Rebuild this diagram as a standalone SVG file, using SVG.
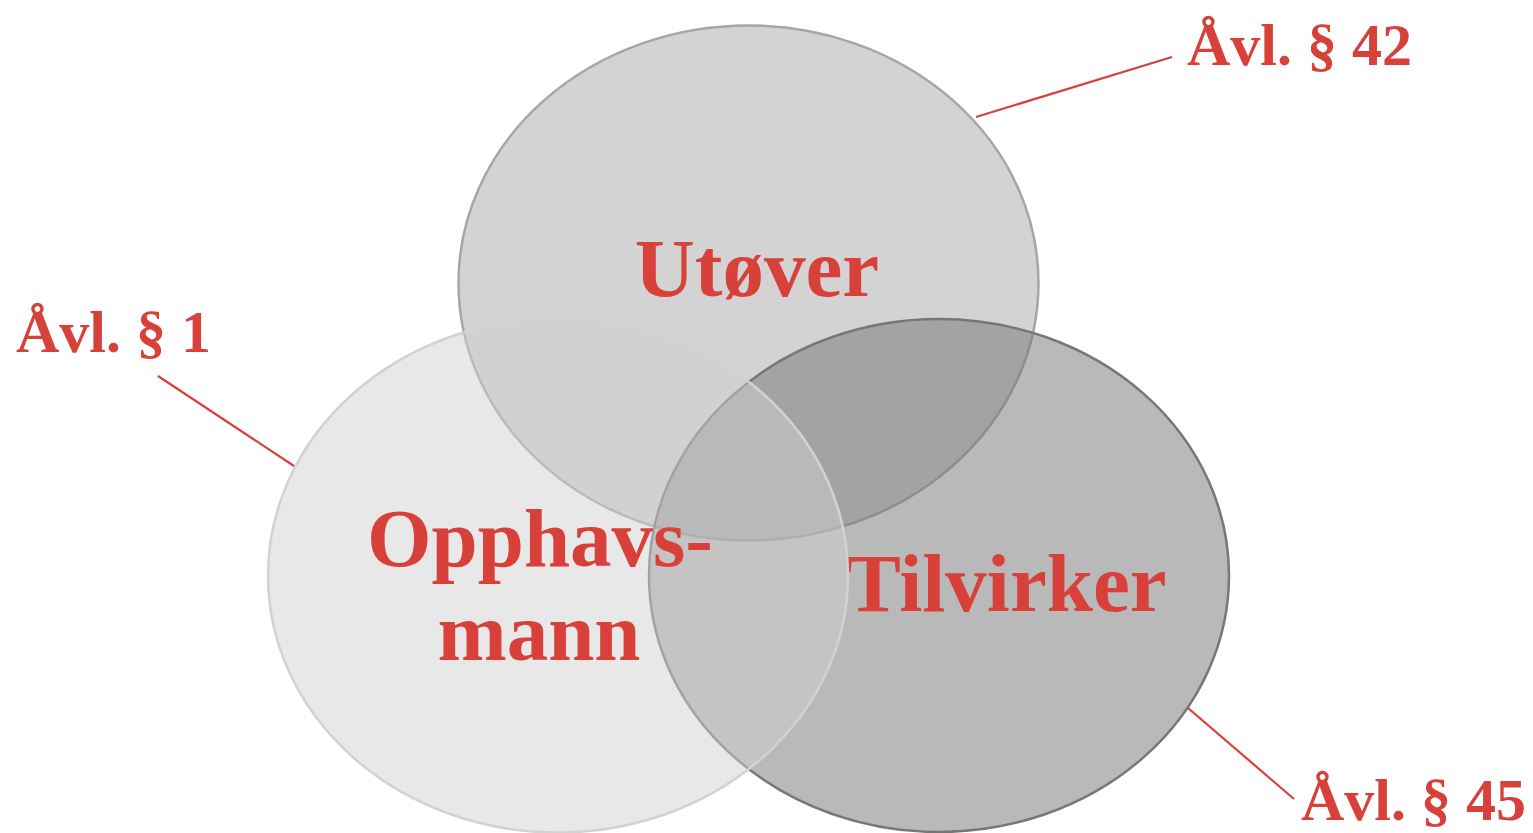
<svg xmlns="http://www.w3.org/2000/svg" width="1533" height="833" viewBox="0 0 1533 833">
  <style>
    .lbl { font-family: "Liberation Serif", "Times New Roman", serif; font-weight: bold; fill: #d8403a; text-anchor: middle; }
    .big { font-size: 83px; }
    .ref { font-size: 60px; text-anchor: start; }
    .conn { stroke: #d8403a; stroke-width: 2.2; fill: none; }
  </style>
  <rect x="0" y="0" width="1533" height="833" fill="#ffffff"/>
  <g id="node-utover">
    <ellipse cx="748.5" cy="283" rx="290" ry="257.5" fill="#a7a7a7" fill-opacity="0.5" stroke="#a6a6a6" stroke-width="2.5"/>
    <text class="lbl big" x="757" y="296">Utøver</text>
  </g>
  <g id="node-tilvirker">
    <ellipse cx="939" cy="575.5" rx="290" ry="256.5" fill="#737373" fill-opacity="0.5" stroke="#777777" stroke-width="2.5"/>
    <text class="lbl big" x="1006" y="611">Tilvirker</text>
  </g>
  <g id="node-opphavsmann">
    <ellipse cx="558" cy="575.5" rx="290" ry="257" fill="#d0d0d0" fill-opacity="0.49" stroke="#d2d2d2" stroke-width="2.5"/>
    <text class="lbl big" x="540" y="566">Opphavs-</text>
    <text class="lbl big" x="539" y="660">mann</text>
  </g>
  <g id="connectors">
    <line class="conn" x1="158" y1="376" x2="294" y2="466"/>
    <line class="conn" x1="976" y1="117" x2="1172" y2="57"/>
    <line class="conn" x1="1188" y1="708" x2="1294" y2="799"/>
  </g>
  <g id="label-avl1">
    <text class="lbl ref" x="16" y="352">Åvl. § 1</text>
  </g>
  <g id="label-avl42">
    <text class="lbl ref" x="1187" y="65">Åvl. § 42</text>
  </g>
  <g id="label-avl45">
    <text class="lbl ref" x="1301" y="820">Åvl. § 45</text>
  </g>
</svg>
